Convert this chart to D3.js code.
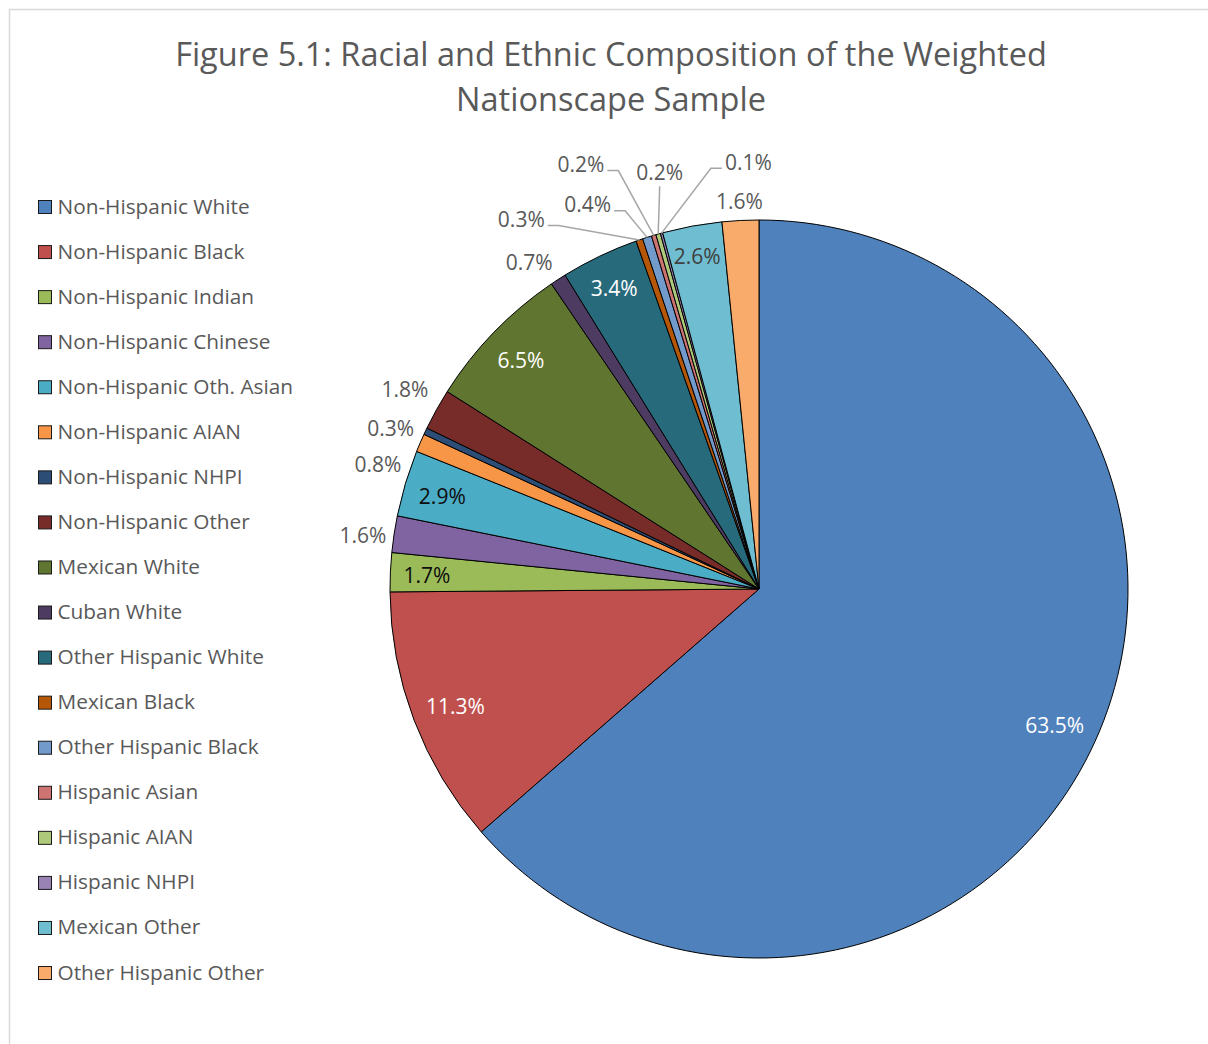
<!DOCTYPE html>
<html><head><meta charset="utf-8">
<script src="https://cdn.jsdelivr.net/npm/d3@7/dist/d3.min.js"></script>
<style>
html,body{margin:0;padding:0;background:#fff;}
svg{display:block;font-family:"Open Sans","Noto Sans",sans-serif;}
</style>
</head><body>
<svg id="chart" width="1208" height="1044"></svg>
<script>
// ---- data ----
const categories = [
  "Non-Hispanic White","Non-Hispanic Black","Non-Hispanic Indian","Non-Hispanic Chinese",
  "Non-Hispanic Oth. Asian","Non-Hispanic AIAN","Non-Hispanic NHPI","Non-Hispanic Other",
  "Mexican White","Cuban White","Other Hispanic White","Mexican Black","Other Hispanic Black",
  "Hispanic Asian","Hispanic AIAN","Hispanic NHPI","Mexican Other","Other Hispanic Other"
];
const values = [63.5, 11.3, 1.7, 1.6, 2.9, 0.8, 0.3, 1.8, 6.5, 0.7, 3.4, 0.3, 0.4, 0.2, 0.2, 0.1, 2.6, 1.6];
const colors = [
  "#4F81BD","#C0504D","#9BBB59","#8064A2","#4BACC6","#F79646",
  "#2C4D75","#772C2A","#5F7530","#4D3B62","#276A7C","#B65708",
  "#729ACA","#CD7371","#AFC97A","#9983B5","#6FBDD1","#F9AB6B"
];
const titleLines = ["Figure 5.1: Racial and Ethnic Composition of the Weighted", "Nationscape Sample"];

// ---- layout config ----
const insideLabels = new Set(["Non-Hispanic White","Non-Hispanic Black","Non-Hispanic Indian",
  "Non-Hispanic Oth. Asian","Mexican White","Other Hispanic White","Mexican Other"]);
// small nudges for outside labels (label collision avoidance as in the original)
const labelNudge = {
  "Non-Hispanic NHPI": [-4, 12],
  "Non-Hispanic AIAN": [-11, 35],
  "Non-Hispanic Other": [-2, -3],
  "Non-Hispanic Chinese": [2, 7],
  "Cuban White": [-13, 8]
};
// labels moved away with leader lines (offset from the slice's outer label point)
const leaderNudge = {
  "Mexican Black": [-108, 9],
  "Other Hispanic Black": [-50, -3],
  "Hispanic Asian": [-64, -41],
  "Hispanic AIAN": [10, -32],
  "Hispanic NHPI": [95, -41]
};

const W = 1208, H = 1044;
const cx = 759, cy = 589, R = 369;
const svg = d3.select("#chart");

// chart border
svg.append("rect").attr("x", 9.5).attr("y", 9.5).attr("width", W + 20).attr("height", H + 20)
  .attr("fill", "#fff").attr("stroke", "#D9D9D9").attr("stroke-width", 1.5);

// title
svg.append("text").attr("text-anchor", "middle").attr("fill", "#595959").attr("font-size", 32.5)
  .selectAll("tspan").data(titleLines).join("tspan")
  .attr("x", 611).attr("y", (d, i) => 66 + i * 45).text(d => d);

const data = categories.map((c, i) => ({ cat: c, value: values[i], color: colors[i] }));
const pie = d3.pie().sort(null).value(d => d.value);
const arcs = pie(data);
const arc = d3.arc().innerRadius(0).outerRadius(R);
const outArc = d3.arc().innerRadius(400).outerRadius(400);
const edgeArc = d3.arc().innerRadius(R).outerRadius(R);

const g = svg.append("g").attr("transform", `translate(${cx},${cy})`);
g.selectAll("path.slice").data(arcs).join("path").attr("class", "slice")
  .attr("d", arc).attr("fill", d => d.data.color)
  .attr("stroke", "#000").attr("stroke-width", 1).attr("stroke-linejoin", "round");

const fmt = v => v.toFixed(1) + "%";
function lum(hex) { const c = d3.rgb(hex); return 0.299 * c.r + 0.587 * c.g + 0.114 * c.b; }
function boxPos(a, w, h, inside) {
  const th = (a.startAngle + a.endAngle) / 2;
  const s = Math.sin(th), c = Math.cos(th);
  const ext = (w * Math.abs(s) + h * Math.abs(c)) / 2;
  const r = inside ? R - 12.5 - ext : R + 9 + ext;
  return [r * s, -r * c];
}

// labels
const lg = g.append("g").attr("font-size", 21);
arcs.forEach(a => {
  const name = a.data.cat;
  const inside = insideLabels.has(name);
  const t = lg.append("text").attr("dy", "0.35em").attr("text-anchor", "middle")
    .text(fmt(a.data.value));
  const w = t.node().getComputedTextLength();
  let x, y, fill;
  if (inside) {
    [x, y] = boxPos(a, w, 24, true);
    y += 2;
    const L = lum(a.data.color);
    fill = L < 130 ? "#FFFFFF" : (L < 167 ? "#0D0D0D" : "#404040");
  } else if (leaderNudge[name]) {
    [x, y] = outArc.centroid(a);
    x += leaderNudge[name][0];
    y += leaderNudge[name][1];
    fill = "#595959";
  } else {
    [x, y] = boxPos(a, w, 18, false);
    if (labelNudge[name]) { x += labelNudge[name][0]; y += labelNudge[name][1]; }
    fill = "#595959";
  }
  t.attr("x", x).attr("y", y).attr("fill", fill);
  if (leaderNudge[name]) {
    const [px, py] = edgeArc.centroid(a);
    let pts;
    if (Math.abs(x - px) < 15) {
      pts = [[x, y + 14], [px, py]];
    } else if (x < px) {
      const sx = x + w / 2 + 3;
      pts = [[sx, y + 6], [sx + 11, y + 6], [px, py]];
    } else {
      const sx = x - w / 2 - 3;
      pts = [[sx, y + 6], [sx - 11, y + 6], [px, py]];
    }
    lg.append("path").attr("d", d3.line()(pts)).attr("fill", "none")
      .attr("stroke", "#A6A6A6").attr("stroke-width", 1.5);
  }
});

// legend
const leg = svg.append("g").attr("transform", "translate(38,200)");
const rows = leg.selectAll("g").data(data).join("g")
  .attr("transform", (d, i) => `translate(0,${i * 45.06})`);
rows.append("rect").attr("x", 0.5).attr("y", 0.5).attr("width", 13).attr("height", 13)
  .attr("fill", d => d.color).attr("stroke", "#1a1a1a").attr("stroke-width", 1);
rows.append("text").attr("x", 19.5).attr("y", 13.5).attr("font-size", 20.8).attr("fill", "#595959")
  .text(d => d.cat);
</script>
</body></html>
